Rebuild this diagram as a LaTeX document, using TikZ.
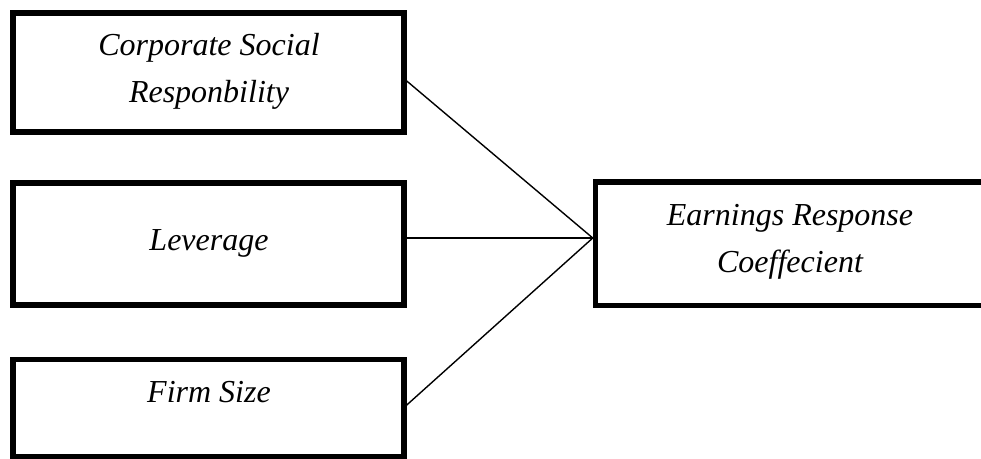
\documentclass[tikz,border=0pt]{standalone}
\usepackage{fontspec}
\setmainfont{Liberation Serif}
\begin{document}
\begin{tikzpicture}[x=1pt,y=-1pt,
  varbox/.style={draw=black,line width=5.5pt,rectangle,inner sep=0pt},
  lbl/.style={anchor=base,inner sep=0pt,font=\fontsize{32}{47}\selectfont\itshape},
  link/.style={draw=black,line width=1.4pt}]
\useasboundingbox (0,0) rectangle (981,458);
\node[varbox,minimum width=391pt,minimum height=119pt] (csr) at (208.5,72.5) {};
\node[varbox,minimum width=391pt,minimum height=122pt] (lev) at (208.5,244) {};
\node[varbox,minimum width=391pt,minimum height=97pt] (fs) at (208.5,408) {};
\node[varbox,minimum width=404pt,minimum height=123.5pt] (erc) at (797.5,243.75) {};
\node[lbl] (t1) at (209,55) {Corporate Social};
\node[lbl] (t2) at (209,102) {Responbility};
\node[lbl] (t3) at (209,250) {Leverage};
\node[lbl] (t4) at (209,402) {Firm Size};
\node[lbl] (t5) at (790,225) {Earnings Response};
\node[lbl] (t6) at (790,272) {Coeffecient};
\coordinate (j) at (erc.west |- 0,238);
\coordinate (s1) at (csr.east |- 0,81);
\coordinate (s2) at (lev.east |- 0,238);
\coordinate (s3) at (fs.east |- 0,405);
\draw[link] (s1) -- (j);
\draw[link] (s2) -- (j);
\draw[link] (s3) -- (j);
\end{tikzpicture}
\end{document}
